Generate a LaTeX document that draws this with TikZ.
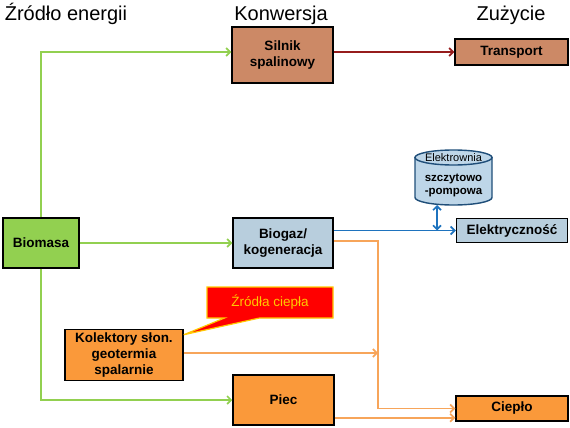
\documentclass[tikz,border=0pt]{standalone}
\usepackage{fontspec}
\setmainfont{Liberation Sans}
\usetikzlibrary{arrows.meta, shapes.callouts, calc}
\definecolor{boxbrown}{RGB}{204, 137, 102}
\definecolor{boxgreen}{RGB}{146, 208, 80}
\definecolor{boxblue}{RGB}{184, 206, 221}
\definecolor{boxorange}{RGB}{250, 153, 58}
\definecolor{cylblue}{RGB}{190, 214, 232}
\definecolor{cyledge}{RGB}{31, 78, 121}
\definecolor{linegreen}{RGB}{146, 208, 80}
\definecolor{linered}{RGB}{150, 28, 28}
\definecolor{lineblue}{RGB}{30, 115, 190}
\definecolor{lineorange}{RGB}{247, 165, 90}
\definecolor{calloutred}{RGB}{255, 0, 0}
\definecolor{calloutgold}{RGB}{255, 200, 0}
\newcommand{\boxfont}{\fontsize{13.5}{16}\selectfont\bfseries}

\begin{document}
\begin{tikzpicture}[x=1pt, y=-1pt]
\tikzset{
  box/.style={draw=black, line width=1.5pt, align=center, inner sep=0, font=\boxfont},
  title/.style={anchor=base, font=\fontsize{20}{24}\selectfont},
  flow/.style={line width=1.6pt, -{Straight Barb[length=4pt, width=8pt]}}
}
\useasboundingbox (0,0) rectangle (570,428);

% column heads
\node[title] (tsource) at (66,21) {Źródło energii};
\node[title] (tconv) at (281,21) {Konwersja};
\node[title] (tuse) at (511,21) {Zużycie};

% boxes
\node[box, fill=boxbrown, minimum width=101pt, minimum height=56pt] (silnik) at (282.5,55) {Silnik\\spalinowy};
\node[box, fill=boxbrown, minimum width=113pt, minimum height=26pt] (transport) at (511.5,52) {Transport};
\node[box, fill=boxgreen, minimum width=76pt, minimum height=50pt] (biomasa) at (41,243) {Biomasa};
\node[box, fill=boxblue, minimum width=100pt, minimum height=50pt] (biogaz) at (283,243) {Biogaz/\\kogeneracja};
\node[box, fill=boxblue, minimum width=111pt, minimum height=24pt] (elektr) at (512,230.5) {Elektryczność};
\node[box, fill=boxorange, minimum width=118pt, minimum height=51pt] (kolektory) at (124,355) {Kolektory słon.\\geotermia\\spalarnie};
\node[box, fill=boxorange, minimum width=101pt, minimum height=50pt] (piec) at (283.5,400) {Piec};
\node[box, fill=boxorange, minimum width=112pt, minimum height=25pt] (cieplo) at (512,408.5) {Ciepło};

% pumped storage
\filldraw[fill=cylblue, draw=cyledge, line width=1.4pt] (415,157.5) -- (415,197.5)
  arc[start angle=180, end angle=0, x radius=38.5, y radius=7.5] -- (492,157.5) -- cycle;
\filldraw[fill=cylblue, draw=cyledge, line width=1.4pt] (453.5,157.5) ellipse[x radius=38.5, y radius=7.5];
\node[font=\fontsize{11}{12}\selectfont] (elektrownia) at (453.5,158) {Elektrownia};
\node[align=center, font=\fontsize{11.5}{13}\selectfont\bfseries] (pompowa) at (453.5,185) {szczytowo\\-pompowa};
\coordinate (zbiornik) at (437,205);

% heat callout
\node[rectangle callout, fill=calloutred, draw=calloutgold, line width=1.2pt, text=calloutgold,
  minimum width=126pt, minimum height=31pt, callout pointer width=35pt,
  callout absolute pointer={($(kolektory.north east)+(0,6)$)},
  font=\fontsize{13.5}{16}\selectfont] (zrodla) at (270,302.5) {Źródła ciepła};

% flows
\draw[flow, linegreen] (biomasa.north) |- (silnik.west |- transport);
\draw[flow, linegreen] (biomasa) -- (biogaz);
\draw[flow, linegreen] (biomasa.south) |- (piec.west);
\draw[flow, linered] (silnik.east |- transport) -- (transport.west);
\draw[flow, lineblue] (biogaz.east |- elektr) -- (elektr.west);
\draw[lineblue, line width=1.6pt, {Straight Barb[length=4pt, width=8pt]}-{Straight Barb[length=4pt, width=8pt]}] (zbiornik) -- (zbiornik |- elektr);

\coordinate (merge) at (378,241);
\coordinate (pin) at ([yshift=4pt]cieplo.south west);
\draw[flow, lineorange] (biogaz.east |- merge) -- (merge) |- (cieplo.west);
\draw[flow, lineorange] (kolektory.east |- 0,353) -- (merge |- 0,353);
\draw[flow, lineorange] (piec.east |- pin) -- (pin);
\end{tikzpicture}
\end{document}
